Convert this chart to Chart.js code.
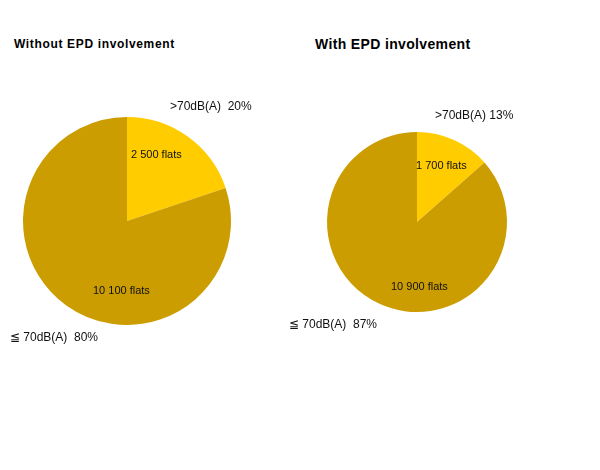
<!DOCTYPE html>
<html>
<head>
<meta charset="utf-8">
<script src="https://cdn.jsdelivr.net/npm/chart.js@4/dist/chart.umd.min.js"></script>
<style>
  body { margin: 0; background: #fff; }
  #wrap { position: relative; width: 600px; height: 470px; }
  #wrap canvas { position: absolute; left: 0; top: 0; }
  .title { position: absolute; font-family: "Liberation Sans", Arial, sans-serif; font-weight: bold; color: #000; white-space: nowrap; }
</style>
</head>
<body>
<div id="wrap">
  <div class="title" style="left:14px; top:37px; font-size:12px; letter-spacing:0.65px;">Without EPD involvement</div>
  <div class="title" style="left:315px; top:36px; font-size:14px; letter-spacing:0.35px;">With EPD involvement</div>
  <canvas id="pie-without" width="600" height="470"></canvas>
  <canvas id="pie-with" width="600" height="470"></canvas>
</div>
<script>
const categories = ['>70dB(A)', '≦ 70dB(A)'];
const flatsWithout = [2500, 10100];
const flatsWith = [1700, 10900];
const sliceColors = ['#FFCC00', '#CC9D00'];

function fmtFlats(v) {
  return String(v).replace(/\B(?=(\d{3})+(?!\d))/g, ' ') + ' flats';
}

// draws the flat counts inside and the category/percent labels outside
const sliceLabels = {
  id: 'sliceLabels',
  afterDatasetsDraw(chart, args, opts) {
    const ctx = chart.ctx;
    const meta = chart.getDatasetMeta(0);
    const data = chart.data.datasets[0].data;
    const total = data.reduce((a, b) => a + b, 0);
    ctx.save();
    ctx.textBaseline = 'middle';
    ctx.textAlign = 'left';
    meta.data.forEach((arc, i) => {
      const cx = arc.x, cy = arc.y;
      ctx.fillStyle = '#111';
      ctx.font = '11px "Liberation Sans", Arial, sans-serif';
      ctx.fillText(fmtFlats(data[i]), cx + opts.inner[i][0], cy + opts.inner[i][1]);
      ctx.font = '12px "Liberation Sans", Arial, sans-serif';
      const pct = Math.round(data[i] / total * 100) + '%';
      ctx.fillText(chart.data.labels[i] + opts.gap[i] + pct, cx + opts.outer[i][0], cy + opts.outer[i][1]);
    });
    ctx.restore();
  }
};

function makePie(id, values, pad, labelPos) {
  return new Chart(document.getElementById(id), {
    type: 'pie',
    data: {
      labels: categories,
      datasets: [{
        data: values,
        backgroundColor: sliceColors,
        borderWidth: 0
      }]
    },
    options: {
      responsive: false,
      animation: false,
      layout: { padding: pad },
      plugins: {
        legend: { display: false },
        tooltip: { enabled: false },
        sliceLabels: labelPos
      }
    },
    plugins: [sliceLabels]
  });
}

makePie('pie-without', flatsWithout,
  { left: 23, top: 117, right: 369, bottom: 145 },
  { inner: [[4, -66], [-34, 70]], outer: [[43, -114], [-117, 117]], gap: ['  ', '  '] });

makePie('pie-with', flatsWith,
  { left: 327, top: 132, right: 93, bottom: 158 },
  { inner: [[-1, -56], [-26, 65]], outer: [[18, -106], [-128, 103]], gap: [' ', '  '] });
</script>
</body>
</html>
